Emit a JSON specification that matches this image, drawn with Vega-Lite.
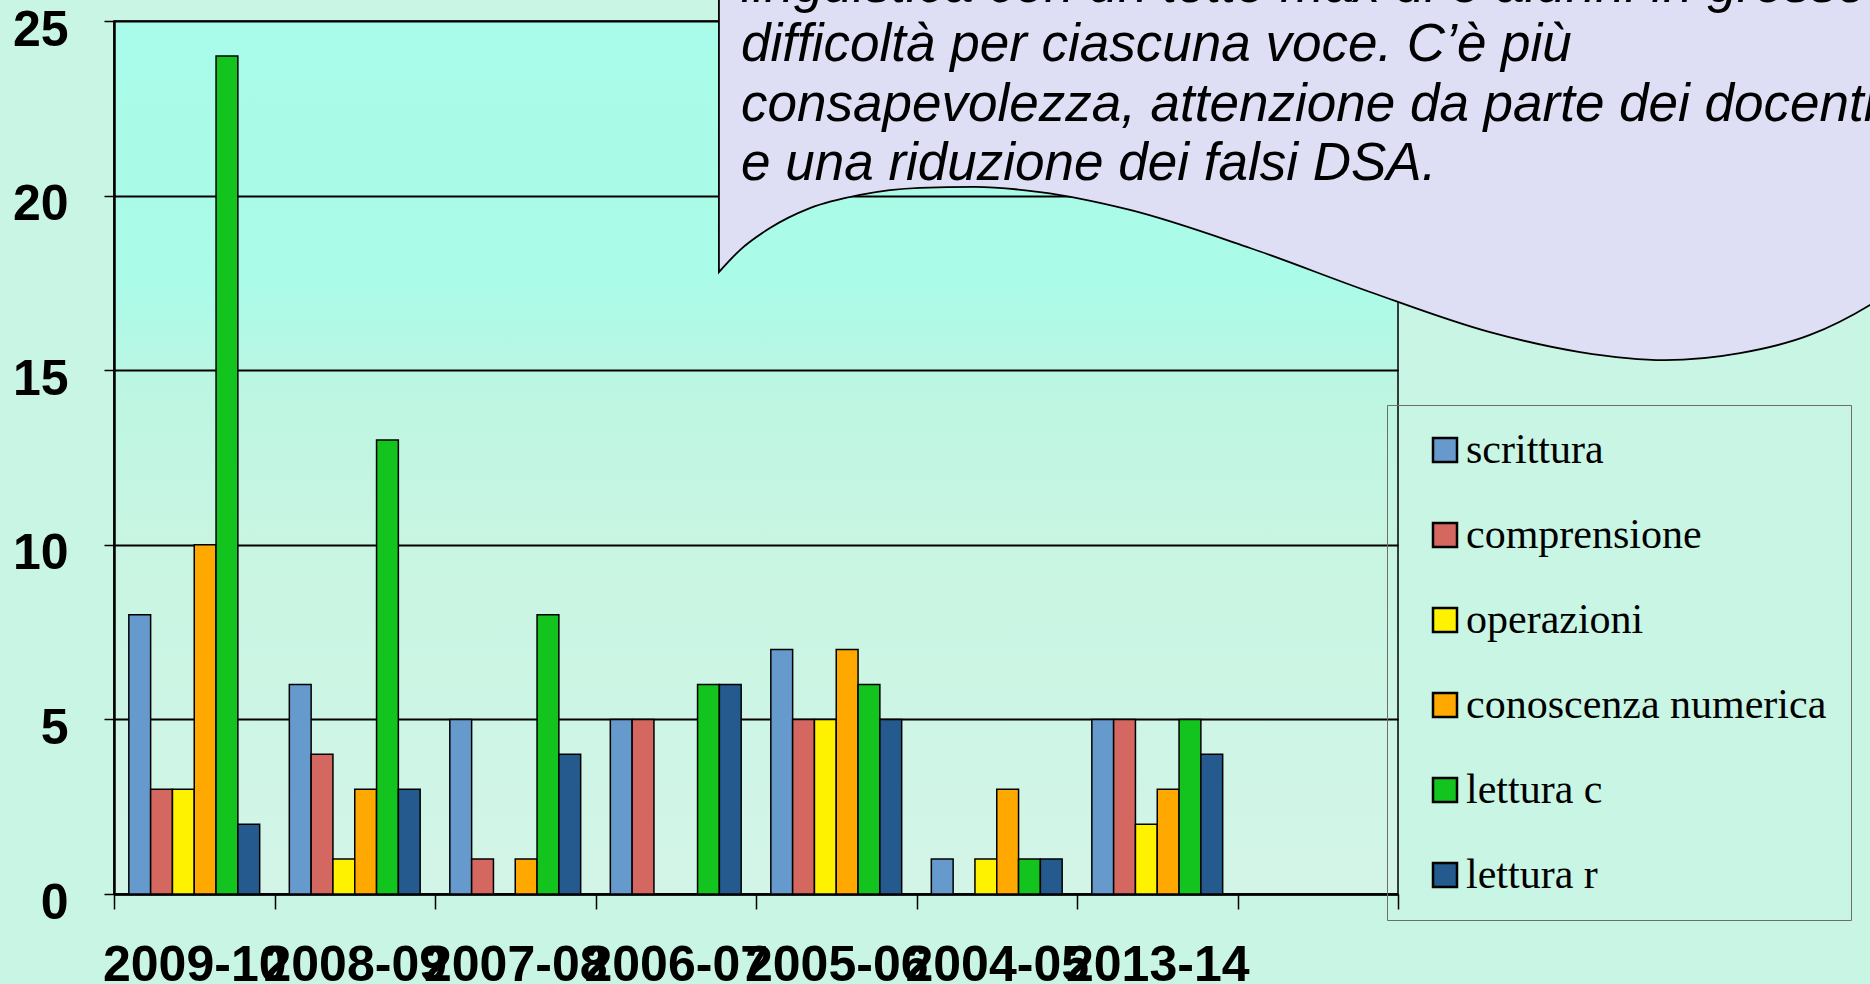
{
  "$schema": "https://vega.github.io/schema/vega-lite/v6.json",
  "autosize": {"type": "none"},
  "width": 1284,
  "height": 873,
  "padding": {"left": 114, "top": 21, "right": 472, "bottom": 90},
  "background": "#C9F5E4",
  "config": {
    "view": {
      "stroke": "#000000",
      "strokeWidth": 1.5,
      "fill": {
        "gradient": "linear",
        "x1": 0, "y1": 0, "x2": 0, "y2": 1,
        "stops": [
          {"offset": 0, "color": "#A9FCE9"},
          {"offset": 0.3, "color": "#AAFBE8"},
          {"offset": 0.42, "color": "#BCF6E2"},
          {"offset": 0.6, "color": "#C8F5E2"},
          {"offset": 1, "color": "#D3F5E8"}
        ]
      }
    },
    "axis": {"title": null}
  },
  "resolve": {"scale": {"x": "independent"}, "axis": {"x": "independent"}},
  "layer": [
    {
      "data": {
        "values": [
          {"anno": "2009-10", "voce": "scrittura", "n": 8},
          {"anno": "2009-10", "voce": "comprensione", "n": 3},
          {"anno": "2009-10", "voce": "operazioni", "n": 3},
          {"anno": "2009-10", "voce": "conoscenza numerica", "n": 10},
          {"anno": "2009-10", "voce": "lettura c", "n": 24},
          {"anno": "2009-10", "voce": "lettura r", "n": 2},
          {"anno": "2008-09", "voce": "scrittura", "n": 6},
          {"anno": "2008-09", "voce": "comprensione", "n": 4},
          {"anno": "2008-09", "voce": "operazioni", "n": 1},
          {"anno": "2008-09", "voce": "conoscenza numerica", "n": 3},
          {"anno": "2008-09", "voce": "lettura c", "n": 13},
          {"anno": "2008-09", "voce": "lettura r", "n": 3},
          {"anno": "2007-08", "voce": "scrittura", "n": 5},
          {"anno": "2007-08", "voce": "comprensione", "n": 1},
          {"anno": "2007-08", "voce": "operazioni", "n": 0},
          {"anno": "2007-08", "voce": "conoscenza numerica", "n": 1},
          {"anno": "2007-08", "voce": "lettura c", "n": 8},
          {"anno": "2007-08", "voce": "lettura r", "n": 4},
          {"anno": "2006-07", "voce": "scrittura", "n": 5},
          {"anno": "2006-07", "voce": "comprensione", "n": 5},
          {"anno": "2006-07", "voce": "operazioni", "n": 0},
          {"anno": "2006-07", "voce": "conoscenza numerica", "n": 0},
          {"anno": "2006-07", "voce": "lettura c", "n": 6},
          {"anno": "2006-07", "voce": "lettura r", "n": 6},
          {"anno": "2005-06", "voce": "scrittura", "n": 7},
          {"anno": "2005-06", "voce": "comprensione", "n": 5},
          {"anno": "2005-06", "voce": "operazioni", "n": 5},
          {"anno": "2005-06", "voce": "conoscenza numerica", "n": 7},
          {"anno": "2005-06", "voce": "lettura c", "n": 6},
          {"anno": "2005-06", "voce": "lettura r", "n": 5},
          {"anno": "2004-05", "voce": "scrittura", "n": 1},
          {"anno": "2004-05", "voce": "operazioni", "n": 1},
          {"anno": "2004-05", "voce": "conoscenza numerica", "n": 3},
          {"anno": "2004-05", "voce": "lettura c", "n": 1},
          {"anno": "2004-05", "voce": "lettura r", "n": 1},
          {"anno": "2013-14", "voce": "scrittura", "n": 5},
          {"anno": "2013-14", "voce": "comprensione", "n": 5},
          {"anno": "2013-14", "voce": "operazioni", "n": 2},
          {"anno": "2013-14", "voce": "conoscenza numerica", "n": 3},
          {"anno": "2013-14", "voce": "lettura c", "n": 5},
          {"anno": "2013-14", "voce": "lettura r", "n": 4}
        ]
      },
      "mark": {"type": "bar", "stroke": "#000000", "strokeWidth": 1.5},
      "encoding": {
        "x": {
          "field": "anno",
          "type": "nominal",
          "sort": null,
          "scale": {
            "domain": ["2009-10", "2008-09", "2007-08", "2006-07", "2005-06", "2004-05", "2013-14", " "],
            "paddingInner": 0,
            "paddingOuter": 0
          },
          "axis": {
            "labelAngle": 0,
            "labelFont": "Liberation Sans",
            "labelFontWeight": "bold",
            "labelFontSize": 50,
            "labelColor": "#000000",
            "labelBaseline": "top",
            "labelPadding": 31,
            "labelOverlap": false,
            "labelLimit": 0,
            "labelBound": false,
            "labelFlush": false,
            "tickBand": "extent",
            "tickSize": 15,
            "tickColor": "#000000",
            "tickWidth": 1.5,
            "domainColor": "#000000",
            "domainWidth": 2.5,
            "grid": false
          }
        },
        "xOffset": {
          "field": "voce",
          "type": "nominal",
          "scale": {
            "domain": ["scrittura", "comprensione", "operazioni", "conoscenza numerica", "lettura c", "lettura r"],
            "paddingInner": 0,
            "paddingOuter": 0.68
          }
        },
        "y": {
          "field": "n",
          "type": "quantitative",
          "scale": {"domain": [0, 25], "nice": false},
          "axis": {
            "values": [0, 5, 10, 15, 20, 25],
            "labelFont": "Liberation Sans",
            "labelFontWeight": "bold",
            "labelFontSize": 50,
            "labelColor": "#000000",
            "labelPadding": 36,
            "labelOffset": 9,
            "tickSize": 10,
            "tickColor": "#000000",
            "tickWidth": 1.5,
            "domainColor": "#000000",
            "domainWidth": 2.5,
            "grid": true,
            "gridColor": "#000000",
            "gridWidth": 2,
            "gridOpacity": 1
          }
        },
        "color": {
          "field": "voce",
          "type": "nominal",
          "scale": {
            "domain": ["scrittura", "comprensione", "operazioni", "conoscenza numerica", "lettura c", "lettura r"],
            "range": ["#6699CC", "#D4675F", "#FFF200", "#FFA800", "#14C41E", "#245A8E"]
          },
          "legend": {
            "title": null,
            "orient": "none",
            "legendX": 1273,
            "legendY": 384,
            "padding": 24,
            "symbolType": "square",
            "symbolSize": 576,
            "symbolOffset": 13,
            "symbolStrokeColor": "#000000",
            "symbolStrokeWidth": 2.5,
            "labelFont": "Liberation Serif",
            "labelFontSize": 42,
            "labelColor": "#000000",
            "labelOffset": 0,
            "labelLimit": 600,
            "rowPadding": 43,
            "strokeColor": "#6E6E6E"
          }
        }
      }
    },
    {
      "data": {
        "values": [
          {"pos": 3.769, "top": 27, "bottom": 17.81},
          {"pos": 3.9, "top": 27, "bottom": 18.44},
          {"pos": 4.087, "top": 27, "bottom": 19.07},
          {"pos": 4.336, "top": 27, "bottom": 19.64},
          {"pos": 4.648, "top": 27, "bottom": 20.02},
          {"pos": 5.022, "top": 27, "bottom": 20.22},
          {"pos": 5.364, "top": 27, "bottom": 20.25},
          {"pos": 5.769, "top": 27, "bottom": 20.1},
          {"pos": 6.33, "top": 27, "bottom": 19.59},
          {"pos": 7.078, "top": 27, "bottom": 18.5},
          {"pos": 7.826, "top": 27, "bottom": 17.24},
          {"pos": 8.573, "top": 27, "bottom": 16.09},
          {"pos": 9.134, "top": 27, "bottom": 15.52},
          {"pos": 9.664, "top": 27, "bottom": 15.29},
          {"pos": 10.131, "top": 27, "bottom": 15.49},
          {"pos": 10.567, "top": 27, "bottom": 16.01},
          {"pos": 10.941, "top": 27, "bottom": 16.87},
          {"pos": 11.252, "top": 27, "bottom": 17.87}
        ]
      },
      "mark": {"type": "area", "fill": "#DEDEF5", "stroke": "#000000", "strokeWidth": 1.8, "interpolate": "monotone"},
      "encoding": {
        "x": {"field": "pos", "type": "quantitative", "scale": {"domain": [0, 8], "nice": false, "zero": false}, "axis": null},
        "y": {"field": "top", "type": "quantitative"},
        "y2": {"field": "bottom"}
      }
    },
    {
      "data": {
        "values": [
          {"pos": 3.907, "v": 25.55, "testo": ["linguistica con un tetto max di 5 alunni in grosse", "difficoltà per ciascuna voce. C’è più", "consapevolezza, attenzione da parte dei docenti", "e una riduzione dei falsi DSA."]}
        ]
      },
      "mark": {"type": "text", "align": "left", "baseline": "alphabetic", "font": "Liberation Sans", "fontStyle": "italic", "fontSize": 53, "lineHeight": 59.5, "color": "#000000"},
      "encoding": {
        "x": {"field": "pos", "type": "quantitative", "scale": {"domain": [0, 8], "nice": false, "zero": false}, "axis": null},
        "y": {"field": "v", "type": "quantitative"},
        "text": {"field": "testo"}
      }
    }
  ]
}
